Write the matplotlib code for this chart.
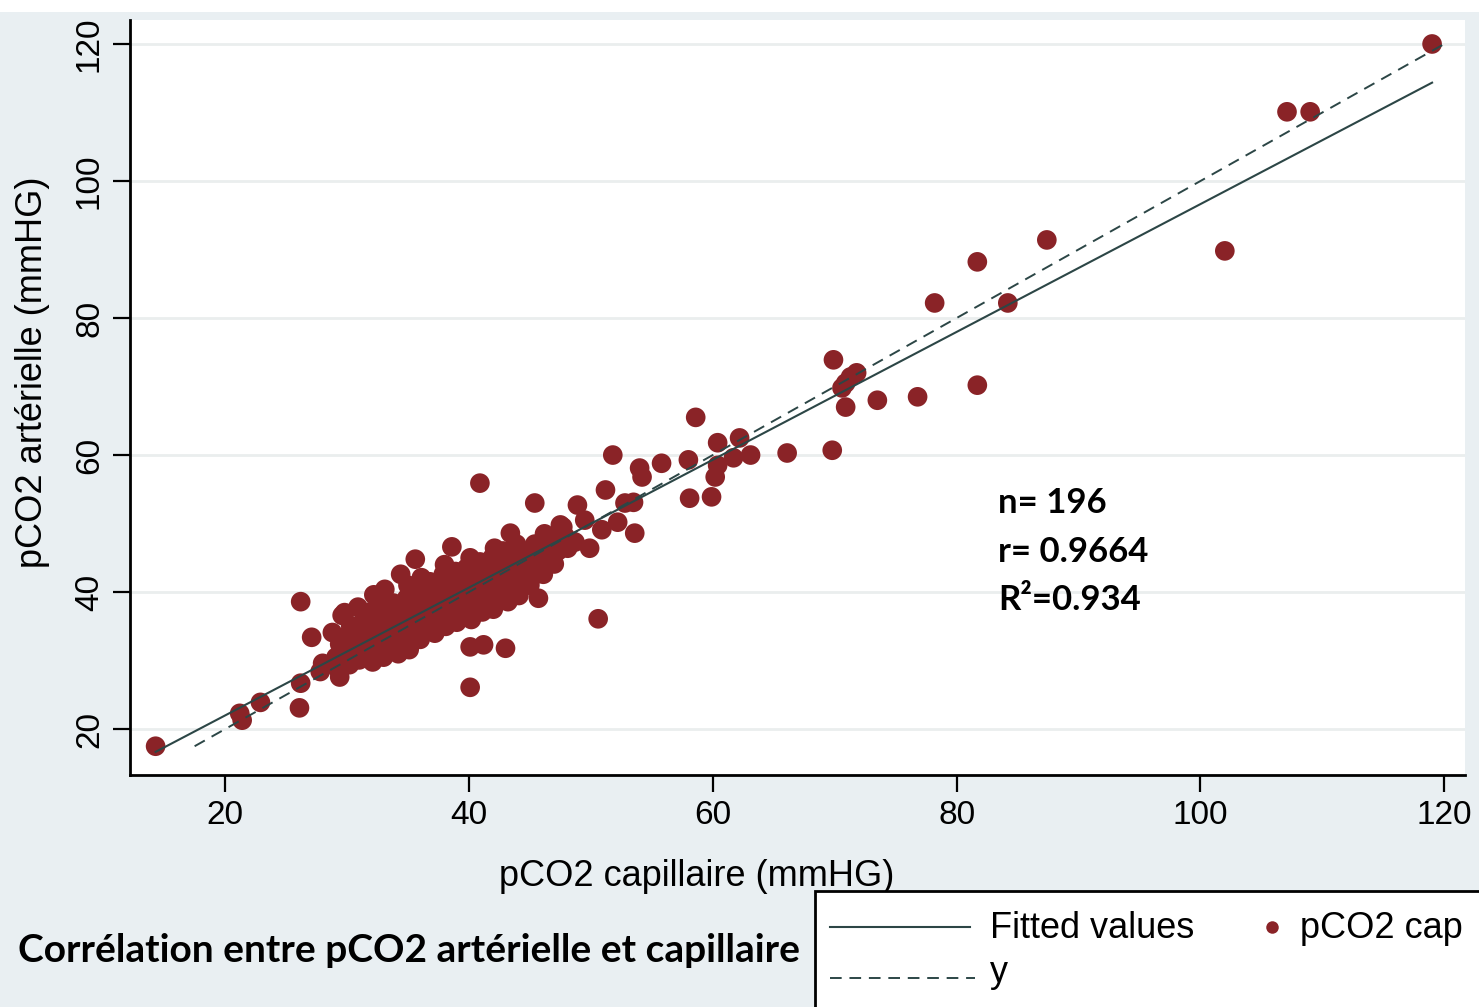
import numpy as np
import matplotlib.pyplot as plt
from matplotlib.patches import Rectangle
from matplotlib.lines import Line2D

plt.rcParams['font.family'] = ['Liberation Sans', 'DejaVu Sans']

# pCO2 capillaire (x) / pCO2 artérielle (y)
low_cap = [14.3, 21.4, 21.2, 22.9, 26.1, 26.2, 26.2, 27.1, 28.0, 29.4, 27.8, 29.2]
low_art = [17.5, 21.3, 22.3, 23.9, 23.1, 26.7, 38.6, 33.4, 29.6, 27.6, 28.4, 28.9]

mid_cap = [40.1, 40.1, 41.2, 43.0, 40.9, 35.6, 38.6, 45.4, 45.7, 50.6,
           43.4, 47.5, 48.7, 47.7, 49.9, 48.9, 49.5, 50.9, 51.2, 51.8,
           52.2, 52.8, 53.5, 53.6, 54.0, 54.2, 55.8, 58.0, 58.6, 58.1,
           59.9, 60.4, 62.2, 63.1, 61.7, 60.4, 60.2, 66.1]
mid_art = [26.1, 32.0, 32.3, 31.8, 55.9, 44.8, 46.6, 53.0, 39.1, 36.1,
           48.6, 49.8, 47.3, 49.5, 46.4, 52.7, 50.5, 49.1, 54.9, 60.0,
           50.2, 53.0, 53.1, 48.6, 58.1, 56.8, 58.8, 59.3, 65.5, 53.7,
           53.9, 61.8, 62.5, 60.0, 59.6, 58.5, 56.8, 60.3]

high_cap = [69.8, 69.9, 71.3, 70.9, 71.8, 70.6, 70.9, 73.5, 76.8, 78.2,
            81.7, 81.7, 84.2, 87.4, 102.0, 107.1, 109.0, 119.0]
high_art = [60.7, 73.9, 71.4, 70.5, 72.0, 69.8, 67.0, 68.0, 68.5, 82.2,
            88.2, 70.2, 82.2, 91.4, 89.8, 110.1, 110.1, 120.0]

# dense cluster, 29-48 mmHg
clu_cap = [29.1, 29.4, 28.8, 29.6,
           30.2, 29.9, 30.4, 30.0, 30.3, 29.8,
           31.0, 31.3, 30.8, 31.2, 31.4, 30.9,
           32.1, 31.8, 32.3, 32.0, 32.4, 31.9, 32.2,
           33.0, 33.3, 32.8, 33.2, 33.4, 32.9, 33.1,
           34.2, 33.9, 34.4, 34.0, 34.3, 33.8, 34.4,
           35.1, 35.3, 34.8, 35.2, 35.4, 34.9, 35.0,
           36.0, 36.3, 35.8, 36.2, 36.4, 35.9, 36.1,
           37.2, 36.9, 37.4, 37.0, 37.3, 36.8,
           38.1, 38.3, 37.8, 38.2, 38.4, 37.9, 38.0,
           39.0, 39.3, 38.8, 39.2, 39.4, 38.9,
           40.2, 39.9, 40.4, 40.0, 40.3, 39.8, 40.1,
           41.1, 41.3, 40.8, 41.2, 41.4, 40.9,
           42.0, 42.3, 41.8, 42.2, 42.4, 41.9, 42.1,
           43.2, 42.9, 43.4, 43.0, 43.3, 42.8,
           44.1, 44.3, 43.8, 44.2, 44.4, 43.9,
           45.0, 45.3, 44.8, 45.2, 45.4,
           46.1, 45.8, 46.3, 46.0, 46.2,
           47.0, 47.3, 46.8,
           48.1, 47.9,
           36.6, 37.5, 38.6, 39.6, 40.6, 41.6, 42.6, 43.6, 44.6, 33.6, 31.6]
clu_art = [30.5, 32.4, 34.1, 36.6,
           29.4, 31.1, 32.0, 33.6, 35.1, 37.0,
           30.1, 31.6, 33.0, 34.4, 36.1, 37.8,
           29.8, 31.0, 32.6, 34.0, 35.4, 37.1, 39.6,
           30.5, 32.1, 33.4, 35.0, 36.6, 38.1, 40.4,
           31.0, 32.6, 34.0, 35.5, 37.1, 38.4, 42.6,
           31.6, 33.0, 34.6, 36.0, 37.4, 39.1, 41.0,
           33.1, 34.5, 36.0, 37.6, 39.0, 40.4, 42.1,
           34.0, 35.6, 37.0, 38.4, 40.1, 41.5,
           35.0, 36.5, 38.1, 39.5, 41.0, 42.6, 44.0,
           35.6, 37.0, 38.4, 40.1, 41.5, 43.0,
           36.0, 37.6, 39.0, 40.4, 42.1, 43.5, 45.0,
           37.1, 38.5, 40.0, 41.6, 43.0, 44.4,
           37.5, 39.1, 40.5, 42.0, 43.6, 45.0, 46.4,
           38.6, 40.0, 41.4, 43.1, 44.5, 46.0,
           39.5, 41.1, 42.5, 44.0, 45.6, 47.0,
           41.0, 42.4, 44.1, 45.5, 47.0,
           42.6, 44.0, 45.4, 47.1, 48.5,
           44.1, 46.0, 47.6,
           46.4, 48.1,
           36.8, 38.8, 37.3, 39.8, 41.3, 39.3, 43.3, 42.2, 44.8, 34.3, 33.8]

cap = np.array(low_cap + mid_cap + high_cap + clu_cap)
art = np.array(low_art + mid_art + high_art + clu_art)

stats = ["n= 196", "r= 0.9664", "R\u00b2=0.934"]

red = "#8a2327"
line_col = "#2c4646"
bg = "#e9eff2"

fig = plt.figure(figsize=(14.79, 10.07), dpi=100, facecolor=bg)
fig.patches.append(Rectangle((0, 1 - 12 / 1007), 1, 12 / 1007, transform=fig.transFigure,
                             facecolor="white", edgecolor="none"))
ax = fig.add_axes([130 / 1479, 1 - 775 / 1007, 1335 / 1479, 755 / 1007])
ax.set_facecolor("white")

slope, icpt = np.polyfit(cap, art, 1)
fx = np.array([cap.min(), cap.max()])
ax.plot(fx, icpt + slope * fx, color=line_col, lw=1.5, zorder=3)
yy = np.array([art.min(), art.max()])
ax.plot(yy, yy, color=line_col, lw=1.4, ls=(0, (6, 4)), zorder=3)
ax.scatter(cap, art, s=200, color=red, edgecolors="none", zorder=2)

ax.set_xlim(12.2, 121.7)
ax.set_ylim(13.3, 123.5)
ax.set_xticks([20, 40, 60, 80, 100, 120])
ax.set_yticks([20, 40, 60, 80, 100, 120])
ax.yaxis.grid(True, color="#eaeeee", lw=2)
ax.set_axisbelow(True)
for s in ["top", "right"]:
    ax.spines[s].set_visible(False)
for s in ["left", "bottom"]:
    ax.spines[s].set_linewidth(2)
ax.tick_params(length=12, width=1.6, labelsize=24, pad=6)
for lab in ax.get_yticklabels():
    lab.set_rotation(90)
    lab.set_va("center")
ax.set_xlabel("pCO2 capillaire (mmHG)", fontsize=26)
ax.set_ylabel("pCO2 artérielle (mmHG)", fontsize=26)
ax.xaxis.set_label_coords((697 - 130) / 1335, -(876 - 775) / 755)
ax.yaxis.set_label_coords(-(130 - 33) / 1335, (775 - 372) / 755)
ax.xaxis.label.set_va("center")
ax.yaxis.label.set_va("center")

for i, t in enumerate(stats):
    ax.text(83.4, 53.0 - 7.1 * i, t, fontsize=25, fontweight="bold",
            family="Lato", va="center", ha="left")

fig.text(18 / 1479, 1 - 950 / 1007, "Corrélation entre pCO2 artérielle et capillaire",
         fontsize=28, fontweight="bold", family="Lato", va="center", ha="left")

# legend box, cut off by the figure edge like the scan
fig.patches.append(Rectangle((815 / 1479, -0.01), 0.5, 1 - 891 / 1007 + 0.01,
                             transform=fig.transFigure, facecolor="white",
                             edgecolor="black", lw=2))
fig.lines.append(Line2D([830 / 1479, 970 / 1479], [1 - 927 / 1007] * 2,
                        transform=fig.transFigure, color=line_col, lw=1.5))
fig.lines.append(Line2D([830 / 1479, 975 / 1479], [1 - 978 / 1007] * 2,
                        transform=fig.transFigure, color=line_col, lw=1.4, ls=(0, (6, 4))))
fig.lines.append(Line2D([1272 / 1479], [1 - 927 / 1007], transform=fig.transFigure,
                        color=red, marker="o", ms=9, mec="none", ls="none"))
fig.text(990 / 1479, 1 - 929 / 1007, "Fitted values", fontsize=26, va="center")
fig.text(990 / 1479, 1 - 973 / 1007, "y", fontsize=26, va="center")
fig.text(1300 / 1479, 1 - 929 / 1007, "pCO2 cap", fontsize=26, va="center")

fig.savefig("out.png", dpi=100, facecolor=bg)
